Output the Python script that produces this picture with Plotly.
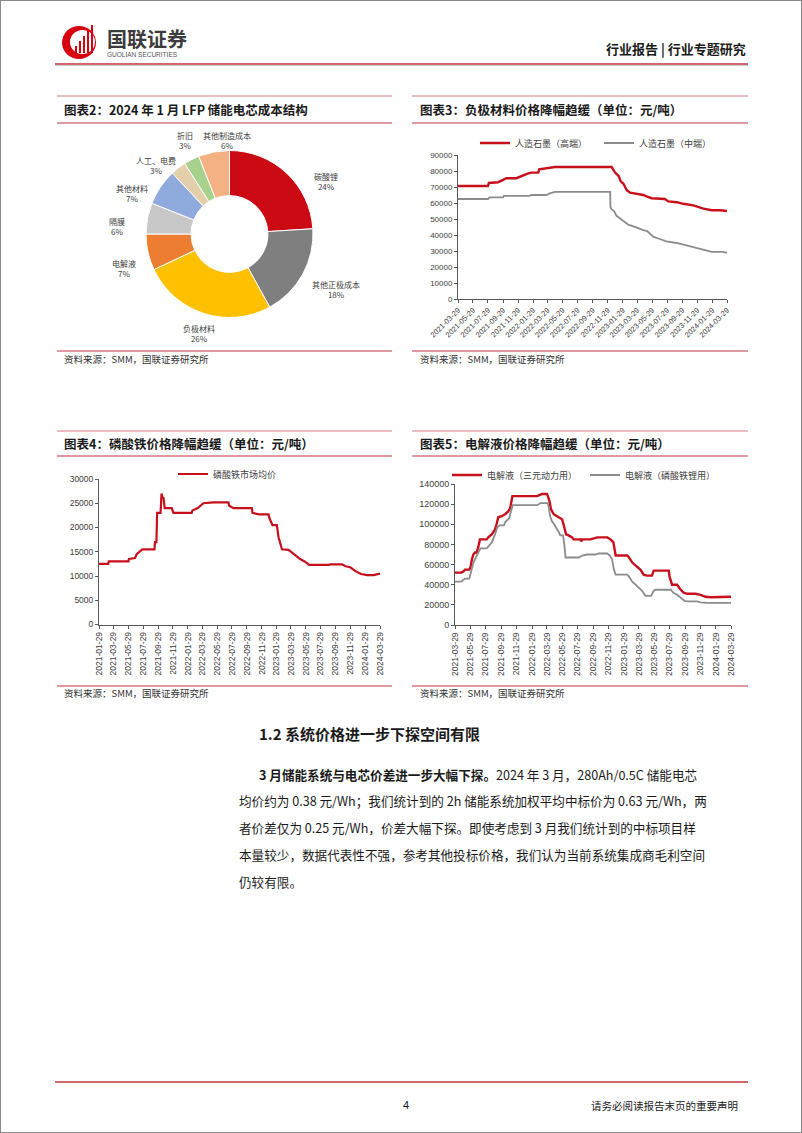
import math
import plotly.graph_objects as go

W, H = 802, 1133


def X(p):
    return p / W


def Y(p):
    return 1 - p / H


# ---------------- data ----------------
pie_labels = ["碳酸锂", "其他正极成本", "负极材料", "电解液", "隔膜", "其他材料", "人工、电费", "折旧", "其他制造成本"]
pie_values = [24, 18, 26, 7, 6, 7, 3, 3, 6]
pie_colors = ["#CC0A14", "#7F7F7F", "#FFC000", "#ED7D31", "#C8C8C8", "#8FAADC", "#E3D0AA", "#A9D18E", "#F4B183"]

# 图表3 负极材料
gh_dates = ["2021-03-29", "2021-07-29", "2021-08-02", "2021-09-08", "2021-09-29", "2021-10-12", "2021-11-22",
            "2021-12-06", "2021-12-26", "2022-01-09", "2022-01-23", "2022-02-19", "2022-02-23", "2022-03-25",
            "2022-04-28", "2022-12-15", "2022-12-29", "2023-01-12", "2023-01-21", "2023-02-01", "2023-02-15",
            "2023-02-28", "2023-03-31", "2023-04-23", "2023-05-09", "2023-05-27", "2023-07-20", "2023-08-03",
            "2023-09-06", "2023-10-03", "2023-11-13", "2023-12-24", "2024-01-27", "2024-03-01", "2024-03-29"]
gh_values = [70600, 70600, 72500, 73000, 74500, 75500, 75500, 76500, 77500, 78500, 79000, 79000, 81000, 81500,
             82500, 82500, 79000, 77000, 73500, 72000, 68000, 66500, 65500, 65000, 64000, 63000, 62500, 61000,
             60500, 59500, 58500, 56500, 55500, 55500, 55000]
gm_dates = ["2021-03-29", "2021-07-29", "2021-08-04", "2021-09-29", "2021-10-02", "2022-01-15", "2022-01-22",
            "2022-03-25", "2022-04-07", "2022-04-28", "2022-12-09", "2022-12-10", "2022-12-15", "2022-12-25",
            "2023-01-04", "2023-01-18", "2023-02-07", "2023-02-21", "2023-03-31", "2023-04-23", "2023-05-09",
            "2023-06-02", "2023-06-29", "2023-07-26", "2023-09-06", "2023-10-17", "2023-11-27", "2023-12-31",
            "2024-01-27", "2024-03-08", "2024-03-29"]
gm_values = [62500, 62500, 63500, 63500, 64500, 64500, 65000, 65000, 66000, 67000, 67000, 57500, 56000, 55000,
             52000, 50500, 48000, 46500, 44500, 43000, 42500, 39000, 37500, 36000, 35000, 33500, 32000, 30500,
             29500, 29500, 29000]
c3_ticks = ["2021-03-29", "2021-05-29", "2021-07-29", "2021-09-29", "2021-11-29", "2022-01-29", "2022-03-29",
            "2022-05-29", "2022-07-29", "2022-09-29", "2022-11-29", "2023-01-29", "2023-03-29", "2023-05-29",
            "2023-07-29", "2023-09-29", "2023-11-29", "2024-01-29", "2024-03-29"]

# 图表4 磷酸铁
fp_dates = ["2021-01-29", "2021-03-08", "2021-03-10", "2021-05-30", "2021-06-01", "2021-06-26", "2021-07-03",
            "2021-07-10", "2021-07-21", "2021-07-26", "2021-09-14", "2021-09-16", "2021-09-22", "2021-09-25",
            "2021-10-09", "2021-10-13", "2021-10-18", "2021-10-21", "2021-10-26", "2021-11-24", "2021-12-01",
            "2022-02-14", "2022-02-17", "2022-03-11", "2022-04-03", "2022-05-15", "2022-07-15", "2022-07-18",
            "2022-08-05", "2022-10-19", "2022-10-22", "2022-11-19", "2022-12-27", "2022-12-30", "2023-01-12",
            "2023-01-30", "2023-02-06", "2023-02-13", "2023-02-20", "2023-03-19", "2023-04-09", "2023-05-06",
            "2023-05-24", "2023-06-12", "2023-08-31", "2023-09-07", "2023-10-25", "2023-11-08", "2023-11-28",
            "2023-12-19", "2024-01-11", "2024-02-05", "2024-03-03", "2024-03-29"]
fp_values = [12500, 12500, 13000, 13000, 13500, 13700, 14500, 14800, 15200, 15500, 15500, 17000, 17000, 23000,
             23000, 27000, 26000, 26200, 24000, 24000, 23000, 23000, 23500, 24000, 25000, 25200, 25200, 24500,
             24000, 24000, 23000, 22700, 22700, 22000, 20500, 20500, 18000, 16500, 15500, 15400, 14500, 13500,
             13000, 12300, 12300, 12400, 12400, 12000, 11800, 11000, 10400, 10200, 10200, 10500]
c4_ticks = ["2021-01-29", "2021-03-29", "2021-05-29", "2021-07-29", "2021-09-29", "2021-11-29", "2022-01-29",
            "2022-03-29", "2022-05-29", "2022-07-29", "2022-09-29", "2022-11-29", "2023-01-29", "2023-03-29",
            "2023-05-29", "2023-07-29", "2023-09-29", "2023-11-29", "2024-01-29", "2024-03-29"]

# 图表5 电解液
en_dates = ["2021-03-29", "2021-04-24", "2021-05-01", "2021-05-08", "2021-05-25", "2021-05-30", "2021-06-04",
            "2021-06-10", "2021-06-16", "2021-06-23", "2021-06-30", "2021-07-06", "2021-08-02", "2021-08-08",
            "2021-08-22", "2021-09-04", "2021-09-10", "2021-09-17", "2021-09-30", "2021-10-14", "2021-10-27",
            "2021-11-03", "2021-11-12", "2022-02-18", "2022-03-09", "2022-03-29", "2022-04-02", "2022-04-09",
            "2022-04-14", "2022-04-25", "2022-05-08", "2022-05-28", "2022-06-03", "2022-06-07", "2022-06-13",
            "2022-06-23", "2022-07-07", "2022-07-13", "2022-08-09", "2022-08-12", "2022-08-16", "2022-09-18",
            "2022-10-08", "2022-10-15", "2022-11-24", "2022-12-07", "2022-12-18", "2022-12-23", "2022-12-27",
            "2023-02-11", "2023-02-18", "2023-03-03", "2023-03-12", "2023-03-23", "2023-04-04", "2023-04-17",
            "2023-04-30", "2023-05-20", "2023-05-27", "2023-07-26", "2023-07-29", "2023-08-08", "2023-08-28",
            "2023-09-08", "2023-09-23", "2023-10-07", "2023-11-09", "2023-11-29", "2023-12-19", "2024-01-08",
            "2024-03-15", "2024-03-29"]
en_values = [52000, 52000, 53000, 55000, 55000, 58000, 65000, 70000, 72000, 72000, 78000, 85000, 85000, 87000,
             90000, 95000, 100000, 107000, 108000, 110000, 113000, 116000, 128000, 128000, 130000, 130000, 128000,
             122000, 115000, 110000, 108000, 105000, 100000, 95000, 90000, 89000, 87000, 85000, 85000, 83000,
             85000, 85000, 86000, 87000, 87000, 85000, 82000, 75000, 69000, 69000, 67000, 62000, 60000, 58000,
             55000, 50000, 49000, 49000, 54000, 54000, 48000, 40000, 40000, 36000, 32000, 31000, 31000, 30000,
             28000, 27500, 27500, 28000]
el_dates = ["2021-03-29", "2021-04-24", "2021-05-01", "2021-05-08", "2021-05-25", "2021-05-30", "2021-06-04",
            "2021-06-10", "2021-06-16", "2021-06-30", "2021-07-08", "2021-08-02", "2021-08-08", "2021-08-22",
            "2021-09-04", "2021-09-13", "2021-09-23", "2021-10-10", "2021-10-14", "2021-10-30", "2021-11-13",
            "2022-02-18", "2022-03-03", "2022-04-01", "2022-04-05", "2022-04-11", "2022-04-18", "2022-04-27",
            "2022-05-08", "2022-05-14", "2022-05-21", "2022-06-01", "2022-06-06", "2022-06-11", "2022-08-03",
            "2022-08-16", "2022-09-05", "2022-10-08", "2022-10-21", "2022-11-24", "2022-12-04", "2022-12-13",
            "2022-12-20", "2022-12-27", "2023-02-11", "2023-02-18", "2023-03-03", "2023-03-16", "2023-03-29",
            "2023-04-11", "2023-04-24", "2023-05-17", "2023-05-27", "2023-06-03", "2023-08-03", "2023-08-13",
            "2023-08-28", "2023-09-12", "2023-09-27", "2023-10-07", "2023-11-16", "2023-11-29", "2023-12-26",
            "2024-03-29"]
el_values = [43000, 43000, 45000, 46000, 46000, 52000, 57000, 62000, 65000, 73000, 76000, 76000, 78000, 82000,
             90000, 97000, 99000, 99000, 102000, 106000, 119000, 119000, 121000, 121000, 117000, 108000, 103000,
             100000, 95000, 93000, 89000, 89000, 80000, 67000, 67000, 69000, 70000, 70000, 71000, 71000, 69000,
             65000, 55000, 50000, 50000, 48000, 43000, 40000, 37000, 34000, 29000, 29000, 34000, 35000, 35000,
             32000, 30000, 27000, 24000, 23500, 23500, 22500, 22000, 22000]
c5_ticks = c3_ticks

# ---------------- styles ----------------
RED = "#C8101C"
GRAY = "#8C8C8C"
AX = "#595959"
TXT = "#404040"
CJK = "Noto Sans CJK SC"
NUM = "Liberation Sans, Arial, Noto Sans CJK SC"
PINK = "#D4777F"

PIE_CX, PIE_CY, PIE_R = 229.5, 234, 83.5
# label placement (best-fit style): angular nudge (deg) and distance (px) per slice label
label_nudge = [18, -1.5, -0.7, -5.3, -7, -11.6, -9.2, 1.5, 9.3]
label_dist = [110, 120, 104, 111, 113, 106, 101, 104, 94]

fig = go.Figure()

fig.add_trace(go.Pie(
    labels=pie_labels, values=pie_values, sort=False, direction="clockwise", rotation=0,
    hole=0.46, marker=dict(colors=pie_colors, line=dict(color="white", width=1)),
    textinfo="none",
    domain=dict(x=[X(PIE_CX - PIE_R), X(PIE_CX + PIE_R)], y=[Y(PIE_CY + PIE_R), Y(PIE_CY - PIE_R)]),
    showlegend=False, hoverinfo="skip"))

fig.add_trace(go.Scatter(x=gh_dates, y=gh_values, mode="lines", name="人造石墨（高端）",
                         line=dict(color=RED, width=2.4), xaxis="x", yaxis="y", legend="legend"))
fig.add_trace(go.Scatter(x=gm_dates, y=gm_values, mode="lines", name="人造石墨（中端）",
                         line=dict(color=GRAY, width=1.8), xaxis="x", yaxis="y", legend="legend"))
fig.add_trace(go.Scatter(x=fp_dates, y=fp_values, mode="lines", name="磷酸铁市场均价",
                         line=dict(color=RED, width=2.2), xaxis="x2", yaxis="y2", legend="legend2"))
fig.add_trace(go.Scatter(x=en_dates, y=en_values, mode="lines", name="电解液（三元动力用）",
                         line=dict(color=RED, width=2.4), xaxis="x3", yaxis="y3", legend="legend3"))
fig.add_trace(go.Scatter(x=el_dates, y=el_values, mode="lines", name="电解液（磷酸铁锂用）",
                         line=dict(color=GRAY, width=1.8), xaxis="x3", yaxis="y3", legend="legend3"))


def xaxis(domain, anchor, ticks, angle, size):
    return dict(domain=domain, anchor=anchor, type="date", range=[ticks[0], ticks[-1]],
                tickmode="array", tickvals=ticks, ticktext=ticks, tickangle=angle,
                showgrid=False, zeroline=False, showline=True, linecolor=AX, linewidth=1,
                ticks="outside", ticklen=3, tickcolor=AX, automargin=False,
                tickfont=dict(family=NUM, size=size, color=TXT), fixedrange=True)


def yaxis(domain, anchor, top, step, size):
    return dict(domain=domain, anchor=anchor, range=[0, top], dtick=step, tick0=0, tickformat="d",
                showgrid=False, zeroline=False, showline=True, linecolor=AX, linewidth=1,
                ticks="outside", ticklen=3, tickcolor=AX, automargin=False,
                tickfont=dict(family=NUM, size=size, color=TXT), fixedrange=True)


def legend(x, y, w):
    return dict(orientation="h", x=x, y=y, xanchor="left", yanchor="middle",
                bgcolor="rgba(0,0,0,0)", font=dict(family=CJK, size=9, color=TXT),
                entrywidth=w, entrywidthmode="pixels", itemclick=False, itemdoubleclick=False)


shapes = []


def hline(x0, x1, y, color, width):
    shapes.append(dict(type="line", xref="paper", yref="paper", x0=X(x0), x1=X(x1), y0=Y(y), y1=Y(y),
                       line=dict(color=color, width=width)))


# page frame
shapes.append(dict(type="rect", xref="paper", yref="paper", x0=0, x1=1, y0=0, y1=1,
                   line=dict(color="#8a8a8a", width=2)))
# header / footer rules
hline(55, 748, 64, "#C0353B", 1.6)
hline(55, 748, 65.6, "#BDBDBD", 0.8)
hline(55, 748, 1082, "#C0353B", 1.6)
# chart frame rules
for (a, b) in [(57, 392), (412, 748)]:
    hline(a, b, 96, PINK, 1)
    hline(a, b, 123, PINK, 1.4)
    hline(a, b, 351, PINK, 1.4)
    hline(a, b, 431, PINK, 1)
    hline(a, b, 456, PINK, 1.4)
    hline(a, b, 686, PINK, 1.4)

# logo
shapes.append(dict(type="circle", xref="paper", yref="paper", x0=X(62), x1=X(96), y0=Y(59), y1=Y(26),
                   fillcolor="#D7000F", line=dict(width=0)))
shapes.append(dict(type="circle", xref="paper", yref="paper", x0=X(70), x1=X(95), y0=Y(54), y1=Y(30),
                   fillcolor="white", line=dict(width=0)))
for (bx, top) in [(75, 46), (79, 41), (83, 36), (87, 31), (91, 25)]:
    shapes.append(dict(type="rect", xref="paper", yref="paper", x0=X(bx), x1=X(bx + 2), y0=Y(53), y1=Y(top),
                       fillcolor="#D7000F", line=dict(width=0)))

ann = []


def text(x, y, s, size, bold=False, anchor="left", color="#1a1a1a", family=CJK):
    ann.append(dict(xref="paper", yref="paper", x=X(x), y=Y(y), xanchor=anchor, yanchor="middle",
                    text=("<b>%s</b>" % s) if bold else s, showarrow=False,
                    font=dict(family=family, size=size, color=color)))


# pie labels, placed outside each slice around its mid angle
total = sum(pie_values)
cum = 0
for lab, v, nud, dist in zip(pie_labels, pie_values, label_nudge, label_dist):
    mid = (cum + v / 2) / total * 360 + nud
    cum += v
    a = math.radians(mid)
    lx = PIE_CX + dist * math.sin(a)
    ly = PIE_CY - dist * math.cos(a)
    text(lx, ly, "%s<br>%d%%" % (lab, v), 8, anchor="center", color=TXT)

text(105, 38, "国联证券", 20, bold=True, color="#3C3C3C")
text(105, 54.5, "GUOLIAN SECURITIES", 6.5, color="#555555", family=NUM)
text(748, 48, "行业报告 | 行业专题研究", 13, bold=True, anchor="right")

text(62, 110, "图表2：2024 年 1 月 LFP 储能电芯成本结构", 12.5, bold=True)
text(418, 110, "图表3：负极材料价格降幅趋缓（单位：元/吨）", 12.5, bold=True)
text(62, 443, "图表4：磷酸铁价格降幅趋缓（单位：元/吨）", 12.5, bold=True)
text(418, 443, "图表5：电解液价格降幅趋缓（单位：元/吨）", 12.5, bold=True)
for (sx, sy) in [(62, 359), (418, 359), (62, 693), (418, 693)]:
    text(sx, sy, "资料来源：SMM，国联证券研究所", 9.5, color="#333333")

text(257, 733, "1.2 系统价格进一步下探空间有限", 15, bold=True)
para = [
    (257, "<b>3 月储能系统与电芯价差进一步大幅下探。</b>2024 年 3 月，280Ah/0.5C 储能电芯"),
    (237, "均价约为 0.38 元/Wh；我们统计到的 2h 储能系统加权平均中标价为 0.63 元/Wh，两"),
    (237, "者价差仅为 0.25 元/Wh，价差大幅下探。即使考虑到 3 月我们统计到的中标项目样"),
    (237, "本量较少，数据代表性不强，参考其他投标价格，我们认为当前系统集成商毛利空间"),
    (237, "仍较有限。"),
]
for i, (px, s) in enumerate(para):
    text(px, 774 + i * 26.8, s, 12.6)

text(401, 1105, "4", 11, family=NUM)
text(740, 1105, "请务必阅读报告末页的重要声明", 10.5, anchor="right")

fig.update_layout(
    width=W, height=H, margin=dict(l=0, r=0, t=0, b=0, pad=0, autoexpand=False),
    paper_bgcolor="white", plot_bgcolor="white",
    xaxis=xaxis([X(458), X(727)], "y", c3_ticks, -45, 7.5),
    yaxis=yaxis([Y(299), Y(155)], "x", 90000, 10000, 8),
    xaxis2=xaxis([X(99), X(380)], "y2", c4_ticks, -90, 8.5),
    yaxis2=yaxis([Y(624.5), Y(479)], "x2", 30000, 5000, 8.5),
    xaxis3=xaxis([X(455), X(731)], "y3", c5_ticks, -90, 8.5),
    yaxis3=yaxis([Y(625), Y(484)], "x3", 140000, 20000, 9),
    legend=legend(X(475), Y(143), 79),
    legend2=legend(X(173), Y(474), 110),
    legend3=legend(X(447), Y(475), 93),
    shapes=shapes, annotations=ann, showlegend=True,
)

fig.write_html("out.html", config={"displayModeBar": False, "staticPlot": True})
